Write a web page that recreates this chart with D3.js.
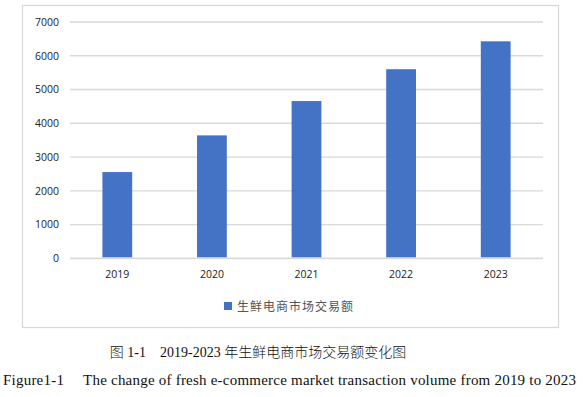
<!DOCTYPE html>
<html><head><meta charset="utf-8">
<script src="https://cdn.jsdelivr.net/npm/d3@7/dist/d3.min.js"></script>
<style>body{margin:0;background:#fff;}svg{display:block;}</style>
</head><body>
<script>
const categories = ["2019","2020","2021","2022","2023"];
const values = [2554.5, 3641.3, 4658.1, 5601.4, 6427.6];
const yTicks = [0,1000,2000,3000,4000,5000,6000,7000];
const seriesName = "生鲜电商市场交易额";
const captionCn = "图 1-1\u30002019-2023 年生鲜电商市场交易额变化图";
const captionEn = "Figure1-1\u3000 The change of fresh e-commerce market transaction volume from 2019 to 2023";

const W=587,H=397;
const svg=d3.select("body").append("svg").attr("width",W).attr("height",H);
svg.append("rect").attr("x",22.5).attr("y",5.5).attr("width",536).attr("height",322)
  .attr("fill","#fff").attr("stroke","#D9D9D9").attr("stroke-width",1.3);

const x=d3.scaleBand().domain(categories).range([70,543]).paddingInner(0.685).paddingOuter(0.3425);
const y=d3.scaleLinear().domain([0,7000]).range([258.3,22]);

const g=svg.append("g");
g.selectAll("line.grid").data(yTicks).join("line").attr("class","grid")
  .attr("x1",70).attr("x2",543).attr("y1",d=>y(d)).attr("y2",d=>y(d))
  .attr("stroke","#D9D9D9").attr("stroke-width",d=>d===0?1.8:1.3);

const yAxis=svg.append("g").attr("transform","translate(70,0)")
  .call(d3.axisLeft(y).tickValues(yTicks).tickFormat(d3.format("d")).tickSize(0).tickPadding(11));
yAxis.select(".domain").remove();
yAxis.selectAll("text").attr("font-family","'Open Sans',sans-serif").attr("font-size",10.5).attr("fill","#222");

g.selectAll("rect.bar").data(values).join("rect").attr("class","bar")
  .attr("x",(d,i)=>x(categories[i])).attr("width",x.bandwidth())
  .attr("y",d=>y(d)).attr("height",d=>y(0)-y(d)-1).attr("fill","#4472C4");

const xAxis=svg.append("g").attr("transform","translate(0,259)")
  .call(d3.axisBottom(x).tickSize(0).tickPadding(12));
xAxis.select(".domain").remove();
xAxis.selectAll("text").attr("font-family","'Open Sans',sans-serif").attr("font-size",10.5).attr("fill","#222");

const lg=svg.append("g");
lg.append("rect").attr("x",224).attr("y",302).attr("width",8).attr("height",8).attr("fill","#4472C4");
lg.append("text").attr("x",237).attr("y",310.5).text(seriesName)
  .attr("font-family","'Noto Sans CJK SC',sans-serif").attr("font-size",12).attr("fill","#555").attr("letter-spacing",1);

svg.append("text").attr("x",258).attr("y",357).attr("text-anchor","middle").text(captionCn)
  .attr("font-family","'Liberation Serif','Noto Sans CJK SC',serif").attr("font-size",14).attr("font-weight",300).attr("fill","#111");
svg.append("text").attr("x",3).attr("y",385).text(captionEn)
  .attr("font-family","'Liberation Serif',serif").attr("font-size",15).attr("fill","#111")
  .attr("textLength",573).attr("lengthAdjust","spacing");
</script>
</body></html>
